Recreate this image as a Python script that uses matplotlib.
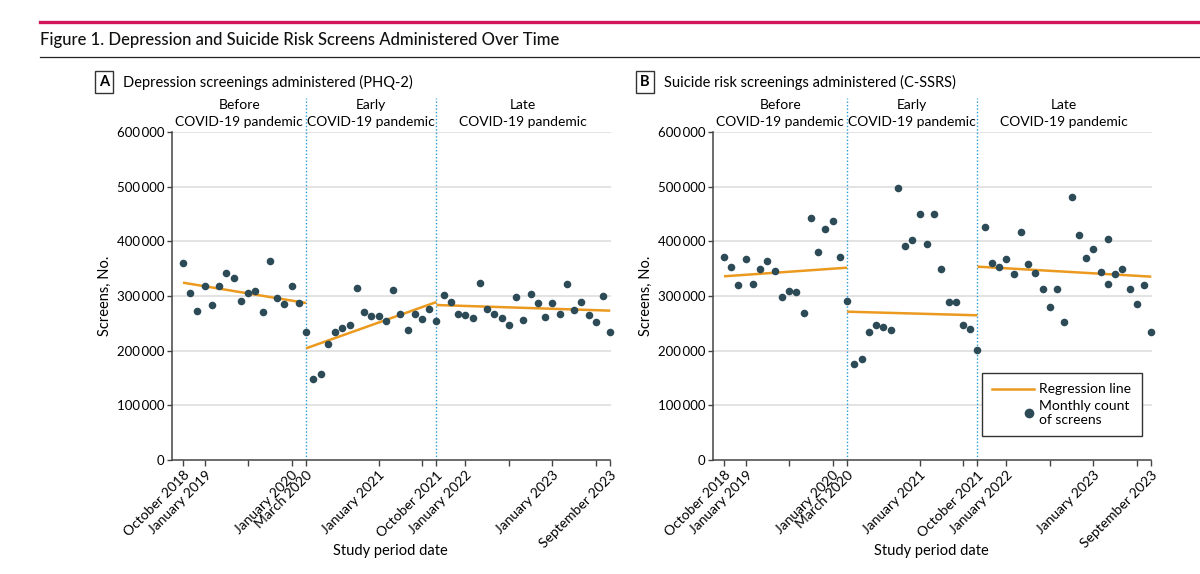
import matplotlib as mpl
import matplotlib.pyplot as plt
from matplotlib.lines import Line2D
from matplotlib.legend_handler import HandlerLine2D
import numpy as np

plt.rcParams['font.family'] = ['Lato', 'DejaVu Sans']

# month index 0 = October 2018
tick_pos = [0, 3, 9, 15, 17, 27, 33, 35, 39, 45, 51, 57, 59]
tick_lab = ['October 2018', 'January 2019', '', 'January 2020', 'March 2020',
            'January 2021', '', 'October 2021', 'January 2022', '',
            'January 2023', '', 'September 2023']
breaks = [17, 35]
periods = [(-1.5, 17), (17, 35), (35, 59)]
period_top = ['Before', 'Early', 'Late']

# panel A: PHQ-2
month_a = list(range(60))
scr_a = [361000, 305500, 272600, 317700, 284200, 318900, 341500, 333500, 291400, 306100,
         308500, 270700, 364600, 296900, 285400, 318900, 287800, 234200, 148800, 157900,
         211600, 234100, 241500, 247000, 315300, 271300, 263400, 263400, 254300, 310400,
         267700, 237800, 267100, 257300, 275600, 254300, 301200, 289600, 267700, 265900,
         259200, 323800, 276200, 266500, 260300, 247500, 297600, 255500, 304200, 287800,
         261600, 287800, 266500, 322000, 273800, 289600, 265900, 252400, 300000, 234100]
reg_a_x = [(0, 17), (17, 35), (35, 59)]
reg_a_y = [(324400, 287200), (204300, 289000), (283500, 273200)]

# panel B: C-SSRS
month_b = list(range(54)) + [53] + list(range(54, 60))
scr_b = [370800, 353000, 319500, 368400, 322000, 349400, 364600, 346300, 298800, 309200,
         306700, 268300, 443300, 380500, 422500, 436600, 371900, 290300, 176200, 185300,
         234700, 247500, 242700, 237800, 497000, 391500, 401800, 450600, 395700, 450000,
         350000, 288400, 288400, 247500, 239700, 200600, 425600, 360300, 353000, 367100,
         340800, 416500, 358000, 341500, 313400, 279900, 313400, 252400, 481100, 411000,
         368900, 386600, 344500, 403700, 321600, 340800, 349000, 312000, 285000, 320700,
         233600]
reg_b_x = [(0, 17), (17, 35), (35, 59)]
reg_b_y = [(336000, 351800), (271300, 264700), (353700, 335400)]

DOT = '#2d4a57'
ORANGE = '#eb9a1f'
BLUE = '#2a9ad6'
SPINE = '#444444'


class RightMarker(HandlerLine2D):
    # single marker goes to the middle of xdata, so squeeze xdata to the right end
    def get_xdata(self, legend, xdescent, ydescent, width, height, fontsize):
        xd = np.array([0.78 * width - xdescent, 0.98 * width - xdescent])
        return xd, xd


fig = plt.figure(figsize=(12, 5.74), dpi=100)

# header rules and title
fig.add_artist(Line2D([40/1200, 1.0], [1-22/574, 1-22/574], color='#d2145a', lw=2.4))
fig.add_artist(Line2D([40/1200, 1.0], [1-57/574, 1-57/574], color='#222222', lw=0.9))
fig.text(40/1200, 1-40/574, 'Figure 1. Depression and Suicide Risk Screens Administered Over Time',
         fontsize=12, va='center', ha='left', color='#111111', fontweight='medium')


def fmt(v, pos):
    return f'{int(v):,}'.replace(',', '\u2009')


def panel(left, letter, subtitle, month, scr, reg_x, reg_y, legend=False):
    ax = fig.add_axes([left/1200, 114/574, 439/1200, 328/574])
    ax.set_xlim(-1.52, 59.1)
    ax.set_ylim(0, 600000)
    ax.set_yticks(np.arange(0, 600001, 100000))
    ax.yaxis.set_major_formatter(mpl.ticker.FuncFormatter(fmt))
    for v in range(100000, 600001, 100000):
        ax.axhline(v, color='#e1e1e1', lw=1.3, zorder=0)
    for s in ['top', 'right']:
        ax.spines[s].set_visible(False)
    for s in ['left', 'bottom']:
        ax.spines[s].set_color(SPINE)
        ax.spines[s].set_linewidth(1.1)
    ax.spines['bottom'].set_bounds(-1.52, 59)
    ax.set_xticks(tick_pos)
    ax.set_xticklabels(tick_lab, rotation=45, ha='right', va='top', rotation_mode='anchor')
    ax.tick_params(axis='x', length=4.5, width=1, color=SPINE, labelsize=10, pad=2)
    ax.tick_params(axis='y', length=3.5, width=1, color=SPINE, labelsize=9.5, pad=2)

    for b in breaks:
        ax.plot([b, b], [0, 1.105], transform=ax.get_xaxis_transform(), color=BLUE,
                lw=1, ls=(0, (1, 1.5)), clip_on=False, zorder=1)
    for (x0, x1), name in zip(periods, period_top):
        xc = (x0 + x1) / 2
        ax.text(xc, 1.082, name, transform=ax.get_xaxis_transform(), ha='center',
                va='center', fontsize=10)
        ax.text(xc, 1.032, 'COVID-19 pandemic', transform=ax.get_xaxis_transform(),
                ha='center', va='center', fontsize=10)

    for (x0, x1), (y0, y1) in zip(reg_x, reg_y):
        ax.plot([x0, x1], [y0, y1], color=ORANGE, lw=1.8, zorder=3,
                solid_capstyle='butt')
    ax.scatter(month, scr, s=30, color=DOT, zorder=4, clip_on=False, linewidths=0)

    ax.set_ylabel('Screens, No.', fontsize=10.5)
    ax.yaxis.set_label_coords(-0.138, 0.5)
    ax.set_xlabel('Study period date', fontsize=10.5)
    ax.xaxis.set_label_coords(0.497, -0.255)

    fig.text((left - 68)/1200, 1-82/574, letter, fontsize=10.5, ha='center', va='center',
             fontweight='bold',
             bbox=dict(boxstyle='square,pad=0.3', fc='white', ec='#333333', lw=1))
    fig.text((left - 49)/1200, 1-82/574, subtitle, fontsize=10.5, ha='left', va='center')

    if legend:
        h = [Line2D([], [], color=ORANGE, lw=1.8),
             Line2D([], [], ls='none', marker='o', ms=7, color=DOT, mew=0)]
        lg = ax.legend(h, ['Regression line', 'Monthly count\nof screens'],
                       loc='lower right', bbox_to_anchor=(0.977, 0.073), fontsize=10,
                       frameon=True, fancybox=False, framealpha=1, edgecolor='#333333',
                       handlelength=3.0, handletextpad=0.4, borderpad=0.75,
                       labelspacing=0.3, borderaxespad=0,
                       handler_map={h[1]: RightMarker()})
        lg.get_frame().set_linewidth(1)
    return ax


panel(172, 'A', 'Depression screenings administered (PHQ-2)', month_a, scr_a, reg_a_x, reg_a_y)
panel(713, 'B', 'Suicide risk screenings administered (C-SSRS)', month_b, scr_b, reg_b_x, reg_b_y,
      legend=True)

fig.savefig('out.png', dpi=100)
